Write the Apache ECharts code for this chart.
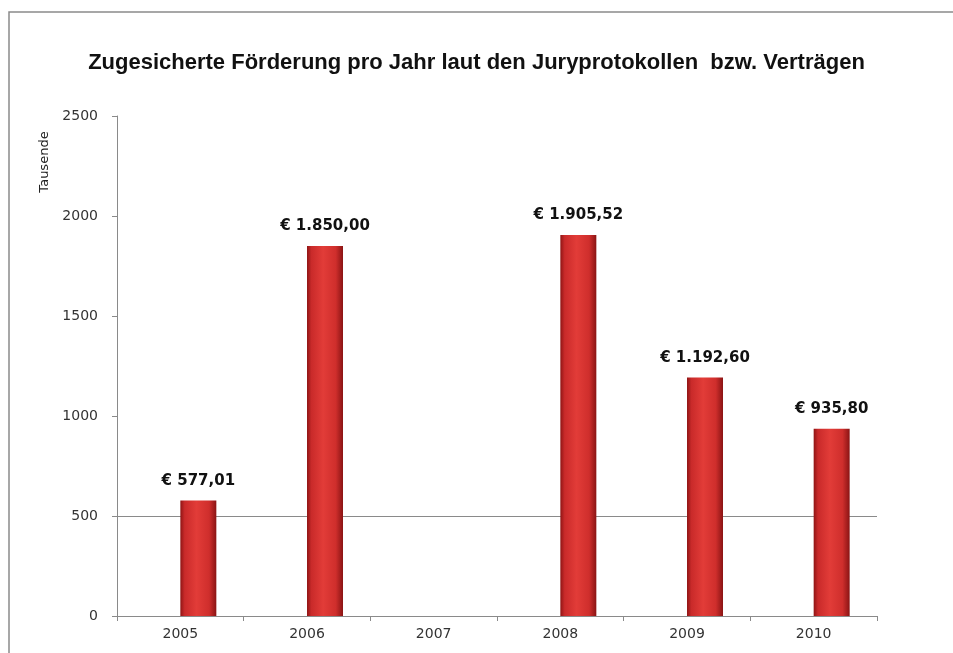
<!DOCTYPE html>
<html>
<head>
<meta charset="utf-8">
<script src="https://cdn.jsdelivr.net/npm/echarts@6/dist/echarts.min.js"></script>
<style>
  html, body { margin: 0; padding: 0; background: #fff; }
  #chart { width: 953px; height: 653px; }
</style>
</head>
<body>
<div id="chart"></div>
<script>
const years = ['2005', '2006', '2007', '2008', '2009', '2010']
// Betraege in Tausend Euro
const betraege = [577.01, 1850.00, 0, 1905.52, 1192.60, 935.80]
// leere erste Reihe (Excel-Vorlage hatte zwei Reihen, eine davon ohne Werte)
const leer = [null, null, null, null, null, null]
const yTicks = [0, 500, 1000, 1500, 2000, 2500]

function euro (v) {
  const parts = v.toFixed(2).split('.')
  const ganz = parts[0].replace(/\B(?=(\d{3})+(?!\d))/g, '.')
  return '€ ' + ganz + ',' + parts[1]
}

const chart = echarts.init(document.getElementById('chart'))

const barColor = new echarts.graphic.LinearGradient(0, 0, 1, 0, [
  { offset: 0, color: '#8f1515' },
  { offset: 0.12, color: '#c92a2a' },
  { offset: 0.45, color: '#e23c38' },
  { offset: 0.8, color: '#cf2e2c' },
  { offset: 1, color: '#8a1414' }
])

const option = {
  animation: false,
  backgroundColor: '#fff',
  textStyle: { fontFamily: 'DejaVu Sans' },
  title: {
    text: 'Zugesicherte Förderung pro Jahr laut den Juryprotokollen  bzw. Verträgen',
    left: 'center',
    top: 47,
    textStyle: {
      fontFamily: 'Liberation Sans',
      fontWeight: 'bold',
      fontSize: 22,
      color: '#111'
    }
  },
  graphic: [
    {
      type: 'rect',
      shape: { x: 9, y: 12, width: 1000, height: 700 },
      style: { fill: 'none', stroke: '#8a8a8a', lineWidth: 1.5 },
      silent: true
    },
    {
      type: 'text',
      x: 45,
      y: 162,
      rotation: Math.PI / 2,
      style: {
        text: 'Tausende',
        fontFamily: 'DejaVu Sans',
        fontSize: 13,
        fill: '#222',
        align: 'center',
        verticalAlign: 'middle'
      }
    }
  ],
  grid: {
    left: 117,
    right: 76,
    top: 116,
    bottom: 37,
    containLabel: false
  },
  xAxis: {
    type: 'category',
    data: years,
    axisLine: { lineStyle: { color: '#8a8a8a', width: 1 } },
    axisTick: { show: true, length: 5, lineStyle: { color: '#8a8a8a' } },
    axisLabel: { color: '#333', fontSize: 14, margin: 11 }
  },
  yAxis: {
    type: 'value',
    min: yTicks[0],
    max: yTicks[yTicks.length - 1],
    interval: 500,
    axisLine: { show: true, lineStyle: { color: '#8a8a8a', width: 1 } },
    axisTick: { show: true, length: 5, lineStyle: { color: '#8a8a8a' } },
    axisLabel: {
      color: '#333',
      fontSize: 14,
      margin: 19,
      formatter: function (v) { return String(v) }
    },
    splitLine: {
      show: true,
      lineStyle: {
        color: ['#8a8a8a', '#8a8a8a', 'rgba(0,0,0,0)', 'rgba(0,0,0,0)', 'rgba(0,0,0,0)', 'rgba(0,0,0,0)'],
        width: 1
      }
    }
  },
  series: [
    {
      name: 'leer',
      type: 'bar',
      data: leer,
      barWidth: 36,
      barGap: '0%'
    },
    {
      name: 'Förderung',
      type: 'bar',
      data: betraege,
      barWidth: 36,
      barGap: '0%',
      itemStyle: { color: barColor },
      label: {
        show: true,
        position: 'top',
        distance: 12,
        fontFamily: 'DejaVu Sans',
        fontWeight: 'bold',
        fontSize: 15,
        color: '#111',
        formatter: function (p) {
          return p.value > 0 ? euro(p.value) : ''
        }
      }
    }
  ]
}

chart.setOption(option)
</script>
</body>
</html>
